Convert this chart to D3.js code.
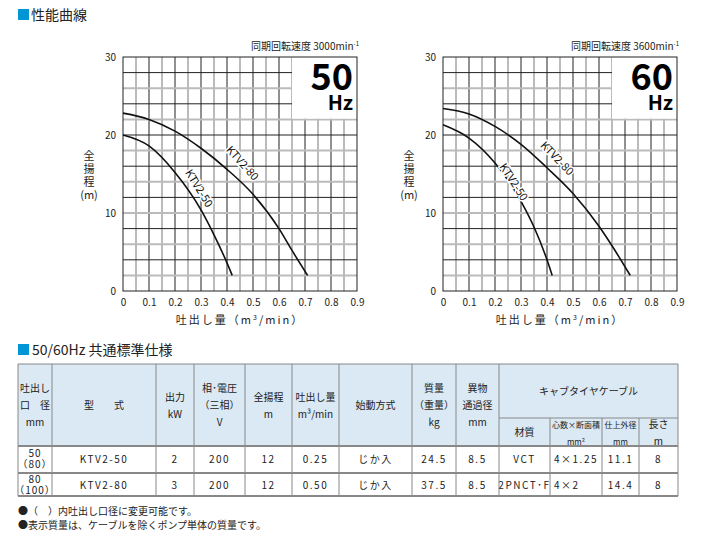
<!DOCTYPE html><html><head><meta charset="utf-8"><script src="https://cdn.jsdelivr.net/npm/d3@7"></script>
<style>body{margin:0;background:#fff}text{font-family:"Noto Sans CJK JP","Noto Sans",sans-serif}</style></head><body>
<svg id="c" width="704" height="550"></svg>
<script>
const xTicks=[0,0.1,0.2,0.3,0.4,0.5,0.6,0.7,0.8,0.9];
const yTicks=[0,10,20,30];
const ktv50_50=[[0,20],[0.1,18.6],[0.2,15.2],[0.3,10.4],[0.35,7.2],[0.4,3.6],[0.42,2]];
const ktv80_50=[[0,22.8],[0.1,22],[0.2,20.5],[0.3,18.3],[0.4,15.6],[0.5,12.4],[0.6,8],[0.65,5.2],[0.71,2]];
const ktv50_60=[[0,21.3],[0.1,19.6],[0.2,16.4],[0.3,11.5],[0.35,8.2],[0.4,4],[0.42,2]];
const ktv80_60=[[0,23.4],[0.1,22.7],[0.2,21.1],[0.3,18.8],[0.4,15.8],[0.5,12.5],[0.6,8.3],[0.65,5.8],[0.72,2]];
const charts=[{x0:123,hz:"50",speed:"3000",c50:ktv50_50,c80:ktv80_50,l80:[0.44,15.8,48],l50:[0.27,12.7,58]},
              {x0:443,hz:"60",speed:"3600",c50:ktv50_60,c80:ktv80_60,l80:[0.42,16.4,46],l50:[0.25,13.5,57]}];
const headers=["吐出し\n口　径\nmm","型　　式","出力\nkW","相･電圧\n（三相）\nV","全揚程\nm","吐出し量\nm³/min","始動方式","質量\n（重量）\nkg","異物\n通過径\nmm"];
const subHeaders=["材質","心数×断面積\nmm²","仕上外径\nmm","長さ\nm"];
const rows=[["50\n（80）","KTV2-50","2","200","12","0.25","じか入","24.5","8.5","VCT","4×1.25","11.1","8"],
            ["80\n（100）","KTV2-80","3","200","12","0.50","じか入","37.5","8.5","2PNCT･F","4×2","14.4","8"]];
const notes=["●（　）内吐出し口径に変更可能です。","●表示質量は、ケーブルを除くポンプ単体の質量です。"];

const svg=d3.select("#c");
function title(x,y,t){svg.append("rect").attr("x",x).attr("y",y-12).attr("width",11).attr("height",11).attr("fill","#0096d6");
 svg.append("text").attr("x",x+13).attr("y",y-1).attr("font-size",14).attr("fill","#222").text(t);}
title(18,21,"性能曲線");
charts.forEach(c=>{
 const x=d3.scaleLinear().domain([0,0.9]).range([c.x0,c.x0+234]);
 const y=d3.scaleLinear().domain([0,30]).range([291,57]);
 const g=svg.append("g");
 for(let i=1;i<18;i++){const v=i*0.05;const odd=i%2==1;
  g.append("line").attr("x1",x(v)).attr("x2",x(v)).attr("y1",y(0)).attr("y2",y(30)).attr("stroke",odd?"#bbb":"#222").attr("stroke-width",odd?2:1);}
 for(let m=2;m<30;m+=2){const gr=(m%4==2);
  g.append("line").attr("x1",x(0)).attr("x2",x(0.9)).attr("y1",y(m)).attr("y2",y(m)).attr("stroke",gr?"#bbb":"#222").attr("stroke-width",gr?2:1);}
 g.append("rect").attr("x",x(0.65)).attr("y",y(30)).attr("width",x(0.9)-x(0.65)).attr("height",y(22.1)-y(30)).attr("fill","#fff");
 g.append("rect").attr("x",x(0)).attr("y",y(30)).attr("width",234).attr("height",234).attr("fill","none").attr("stroke","#222");
 g.append("text").attr("x",x(0.9)-4).attr("y",y(30)+33).attr("text-anchor","end").attr("font-size",36).attr("font-weight","bold").attr("font-family","Liberation Sans").text(c.hz);
 g.append("text").attr("x",x(0.9)-4).attr("y",y(30)+53).attr("text-anchor","end").attr("font-size",20).attr("font-weight","bold").attr("font-family","Liberation Sans").text("Hz");
 const st=g.append("text").attr("x",x(0.9)+2).attr("y",y(30)-7).attr("text-anchor","end").attr("font-size",10).attr("fill","#222");
 st.append("tspan").text("同期回転速度 "+c.speed+"min"); st.append("tspan").attr("font-size",6).attr("dy",-4).text("-1");
 const xa=g.append("g").attr("transform","translate(0,297)").call(d3.axisBottom(x).tickValues(xTicks).tickSize(0).tickFormat(d=>d===0?"0":d3.format(".1f")(d)));
 xa.select(".domain").remove(); xa.selectAll("text").attr("font-size",10).attr("fill","#222").attr("dy","0.6em");
 const ya=g.append("g").attr("transform",`translate(${c.x0-4},0)`).call(d3.axisLeft(y).tickValues(yTicks).tickSize(0));
 ya.select(".domain").remove(); ya.selectAll("text").attr("font-size",10).attr("fill","#222");
 const xl=g.append("text").attr("x",x(0.45)).attr("y",324).attr("text-anchor","middle").attr("font-size",11).attr("fill","#222").attr("letter-spacing",2);
 xl.append("tspan").text("吐出し量（m"); xl.append("tspan").attr("font-size",7).attr("dy",-4).text("3"); xl.append("tspan").attr("dy",4).text("/min）");
 ["全","揚","程","(m)"].forEach((t,i)=>g.append("text").attr("x",c.x0-34).attr("y",160+i*13).attr("text-anchor","middle").attr("font-size",11).attr("fill","#222").text(t));
 const line=d3.line().x(d=>x(d[0])).y(d=>y(d[1])).curve(d3.curveMonotoneX);
 [c.c50,c.c80].forEach(d=>g.append("path").attr("d",line(d)).attr("fill","none").attr("stroke","#111").attr("stroke-width",1.6));
 [[c.l80,"KTV2-80"],[c.l50,"KTV2-50"]].forEach(([l,t])=>{
  const tx=g.append("g").attr("transform",`translate(${x(l[0])},${y(l[1])}) rotate(${l[2]})`);
  tx.append("text").attr("text-anchor","middle").attr("dy",-3).attr("font-size",11).attr("stroke","#fff").attr("stroke-width",3).text(t);
  tx.append("text").attr("text-anchor","middle").attr("dy",-3).attr("font-size",11).attr("fill","#111").text(t);});
});
// table
title(18,356,"");
svg.append("text").attr("x",32).attr("y",355).attr("font-size",14).attr("fill","#222").text("50/60Hz 共通標準仕様");
const cx=[18,52,156,194,245,292,339,412,456,499,550,602,639,678];
const tTop=364,tSub=418,tHb=446,tR1=473,tBot=496;
svg.append("rect").attr("x",18).attr("y",tTop).attr("width",660).attr("height",tHb-tTop).attr("fill","#dbe9f4");
const T=svg.append("g").attr("fill","#222").attr("font-size",10);
function mtext(x,y,t,fs){const ls=t.split("\n");ls.forEach((s,i)=>T.append("text").attr("x",x).attr("y",y+(i-(ls.length-1)/2)*17+4).attr("text-anchor","middle").attr("font-size",fs||10).text(s));}
headers.forEach((h,i)=>mtext((cx[i]+cx[i+1])/2,405,h));
mtext((499+678)/2,391,"キャブタイヤケーブル");
subHeaders.forEach((h,i)=>mtext((cx[9+i]+cx[10+i])/2,432,h,i==1||i==2?8:10));
rows.forEach((r,ri)=>{const yc=ri?485:459;r.forEach((v,i)=>{
 const ls=v.split("\n");
 if(ls.length>1) ls.forEach((s,k)=>T.append("text").attr("x",(cx[i]+cx[i+1])/2).attr("y",yc-2+k*11).attr("text-anchor","middle").attr("letter-spacing",1).text(s));
 else T.append("text").attr("x",i==10?cx[i]+4:(cx[i]+cx[i+1])/2).attr("y",yc+4).attr("text-anchor",i==10?"start":"middle").attr("letter-spacing",1.5).text(v);});});
const L=svg.append("g");
[tTop,tHb,tR1,tBot].forEach(yy=>L.append("line").attr("x1",18).attr("x2",678).attr("y1",yy).attr("y2",yy).attr("stroke","#888").attr("stroke-width",yy==tTop?1:2));
L.append("line").attr("x1",499).attr("x2",678).attr("y1",tSub).attr("y2",tSub).attr("stroke","#888");
cx.forEach((xx,i)=>L.append("line").attr("x1",xx).attr("x2",xx).attr("y1",i>9&&i<13?tSub:tTop).attr("y2",tBot).attr("stroke","#888"));
notes.forEach((n,i)=>svg.append("text").attr("x",18).attr("y",515+i*14).attr("font-size",10).attr("fill","#222").text(n));
</script></body></html>
